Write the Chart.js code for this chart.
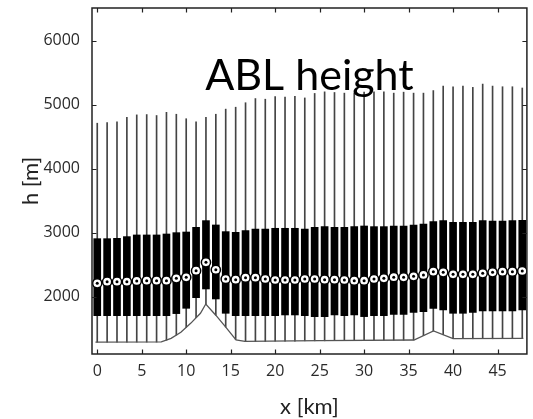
<!DOCTYPE html>
<html>
<head>
<meta charset="utf-8">
<title>ABL height</title>
<script src="https://cdn.jsdelivr.net/npm/chart.js@4.4.1/dist/chart.umd.min.js"></script>
<style>
  body { margin: 0; background: #fff; }
  #wrap { width: 533px; height: 419px; }
</style>
</head>
<body>
<div id="wrap"><canvas id="abl-chart" width="533" height="419"></canvas></div>
<script>
// box positions along the transect [km]
const xs = [0, 1.11, 2.22, 3.33, 4.44, 5.56, 6.67, 7.78, 8.89, 10,
    11.11, 12.22, 13.33, 14.44, 15.56, 16.67, 17.78, 18.89, 20, 21.11,
    22.22, 23.33, 24.44, 25.56, 26.67, 27.78, 28.89, 30, 31.11, 32.22,
    33.33, 34.44, 35.56, 36.67, 37.78, 38.89, 40, 41.11, 42.22, 43.33,
    44.44, 45.56, 46.67, 47.78];
// whiskers (lower end sits on the ground) [m]
const whiskerLow = [1290, 1290, 1290, 1290, 1290, 1290, 1290, 1320, 1400, 1520,
    1670, 1880, 1710, 1525, 1330, 1300, 1300, 1300, 1305, 1305,
    1305, 1310, 1310, 1310, 1315, 1315, 1315, 1315, 1320, 1320,
    1320, 1320, 1325, 1390, 1464, 1405, 1345, 1342, 1342, 1342,
    1342, 1345, 1345, 1345];
const whiskerHigh = [4710, 4720, 4730, 4800, 4840, 4845, 4830, 4880, 4850, 4780,
    4730, 4800, 4850, 4930, 4960, 5030, 5095, 5085, 5125, 5120,
    5130, 5105, 5175, 5200, 5190, 5180, 5180, 5195, 5200, 5200,
    5180, 5195, 5180, 5180, 5220, 5290, 5280, 5290, 5270, 5320,
    5290, 5280, 5280, 5260];
// quartiles and median [m]
const boxLow = [1703, 1703, 1703, 1703, 1703, 1703, 1703, 1703, 1735, 1818,
    1984, 2120, 1964, 1740, 1703, 1703, 1703, 1703, 1703, 1714,
    1714, 1703, 1688, 1688, 1714, 1703, 1714, 1688, 1703, 1703,
    1724, 1724, 1755, 1766, 1818, 1792, 1740, 1740, 1755, 1776,
    1776, 1776, 1776, 1792];
const boxHigh = [2906, 2906, 2911, 2938, 2964, 2964, 2964, 2979, 3000, 3010,
    3083, 3188, 3120, 3016, 3005, 3031, 3057, 3057, 3068, 3068,
    3068, 3057, 3083, 3094, 3083, 3083, 3094, 3104, 3094, 3094,
    3104, 3104, 3120, 3135, 3172, 3188, 3161, 3161, 3161, 3188,
    3182, 3182, 3188, 3193];
const median = [2208, 2234, 2234, 2234, 2245, 2250, 2250, 2250, 2286, 2302,
    2406, 2536, 2420, 2276, 2266, 2297, 2297, 2276, 2260, 2260,
    2260, 2276, 2276, 2266, 2266, 2260, 2250, 2250, 2276, 2286,
    2305, 2302, 2318, 2339, 2391, 2380, 2349, 2349, 2349, 2365,
    2380, 2391, 2391, 2401];
// terrain profile
const terrainX = [-0.2, 7.2, 8.3, 9.4, 10.5, 11.6, 12.2, 13.3, 14.4, 15.6, 16.6, 25, 35.6, 37.8, 40, 47.9];
const terrainH = [1288, 1295, 1349, 1443, 1583, 1740, 1885, 1714, 1531, 1323, 1300, 1312, 1323, 1464, 1345, 1348];
// axis ticks
const xTicks = [0, 5, 10, 15, 20, 25, 30, 35, 40, 45];
const yTicks = [2000, 3000, 4000, 5000, 6000];

// frame with inward ticks + the title inside the plot
const frame = {
    id: 'frame',
    afterDraw(chart) {
        const { ctx, chartArea: a, scales: { x, y } } = chart;
        ctx.save();
        ctx.strokeStyle = '#222';
        ctx.lineWidth = 1.5;
        ctx.strokeRect(a.left, a.top, a.right - a.left, a.bottom - a.top);
        ctx.beginPath();
        xTicks.forEach(v => {
            const px = Math.round(x.getPixelForValue(v)) + 0.5;
            ctx.moveTo(px, a.bottom); ctx.lineTo(px, a.bottom - 4.5);
            ctx.moveTo(px, a.top); ctx.lineTo(px, a.top + 4.5);
        });
        yTicks.forEach(v => {
            const py = Math.round(y.getPixelForValue(v)) + 0.5;
            ctx.moveTo(a.left, py); ctx.lineTo(a.left + 4.5, py);
            ctx.moveTo(a.right, py); ctx.lineTo(a.right - 4.5, py);
        });
        ctx.lineWidth = 1.2;
        ctx.stroke();
        ctx.fillStyle = '#000';
        ctx.font = '43px Lato';
        ctx.textAlign = 'center';
        ctx.textBaseline = 'alphabetic';
        ctx.fillText('ABL height', (a.left + a.right) / 2, a.top + 82);
        ctx.restore();
    }
};

const tickFont = { family: 'Open Sans', size: 16 };
const titleFont = { family: 'Lato', size: 22, lineHeight: 1 };

const canvas = document.getElementById('abl-chart').getContext('2d');
const ablChart = new Chart(canvas, {
    type: 'bar',
    data: {
        datasets: [{
            label: 'whiskers',
            data: xs.map((x, i) => ({ x, y: [whiskerLow[i], whiskerHigh[i]] })),
            backgroundColor: '#444',
            barThickness: 1,
            grouped: false,
            order: 5
        }, {
            label: 'boxes',
            data: xs.map((x, i) => ({ x, y: [boxLow[i], boxHigh[i]] })),
            backgroundColor: '#000',
            barThickness: 7,
            grouped: false,
            order: 4
        }, {
            type: 'line',
            label: 'terrain',
            data: terrainX.map((x, i) => ({ x, y: terrainH[i] })),
            borderColor: '#555',
            borderWidth: 1.3,
            pointRadius: 0,
            tension: 0,
            order: 3
        }, {
            type: 'line',
            label: 'median',
            data: xs.map((x, i) => ({ x, y: median[i] })),
            showLine: false,
            pointRadius: 4.6,
            pointBackgroundColor: '#fff',
            pointBorderColor: '#000',
            pointBorderWidth: 1.5,
            order: 2
        }, {
            type: 'line',
            label: 'median dot',
            data: xs.map((x, i) => ({ x, y: median[i] })),
            showLine: false,
            pointRadius: 1.5,
            pointBackgroundColor: '#000',
            pointBorderWidth: 0,
            order: 1
        }]
    },
    options: {
        responsive: false,
        animation: false,
        layout: { padding: { top: 8, right: 1, left: 0, bottom: 0 } },
        plugins: {
            legend: { display: false },
            tooltip: { enabled: false }
        },
        scales: {
            x: {
                type: 'linear',
                offset: false,
                min: -0.59,
                max: 48.3,
                grid: { display: false },
                border: { display: false },
                afterBuildTicks: scale => { scale.ticks = xTicks.map(value => ({ value })); },
                afterFit: scale => {
                    scale.height = 65;
                    scale.paddingLeft = 0;
                    scale.paddingRight = 0;
                },
                ticks: { color: '#2a2a2a', font: tickFont, padding: 0, maxRotation: 0, callback: v => String(v) },
                title: { display: true, text: 'x [km]', color: '#222', font: titleFont, padding: { top: 0, bottom: 1 } }
            },
            y: {
                min: 1104,
                max: 6510,
                grid: { display: false },
                border: { display: false },
                afterBuildTicks: scale => { scale.ticks = yTicks.map(value => ({ value })); },
                afterFit: scale => {
                    scale.width = 92;
                    scale.paddingTop = 0;
                    scale.paddingBottom = 0;
                },
                ticks: { color: '#2a2a2a', font: tickFont, padding: 4, callback: v => String(v) },
                title: { display: true, text: 'h [m]', color: '#222', font: titleFont, padding: { top: 20, bottom: 0 } }
            }
        }
    },
    plugins: [frame]
});
</script>
</body>
</html>
